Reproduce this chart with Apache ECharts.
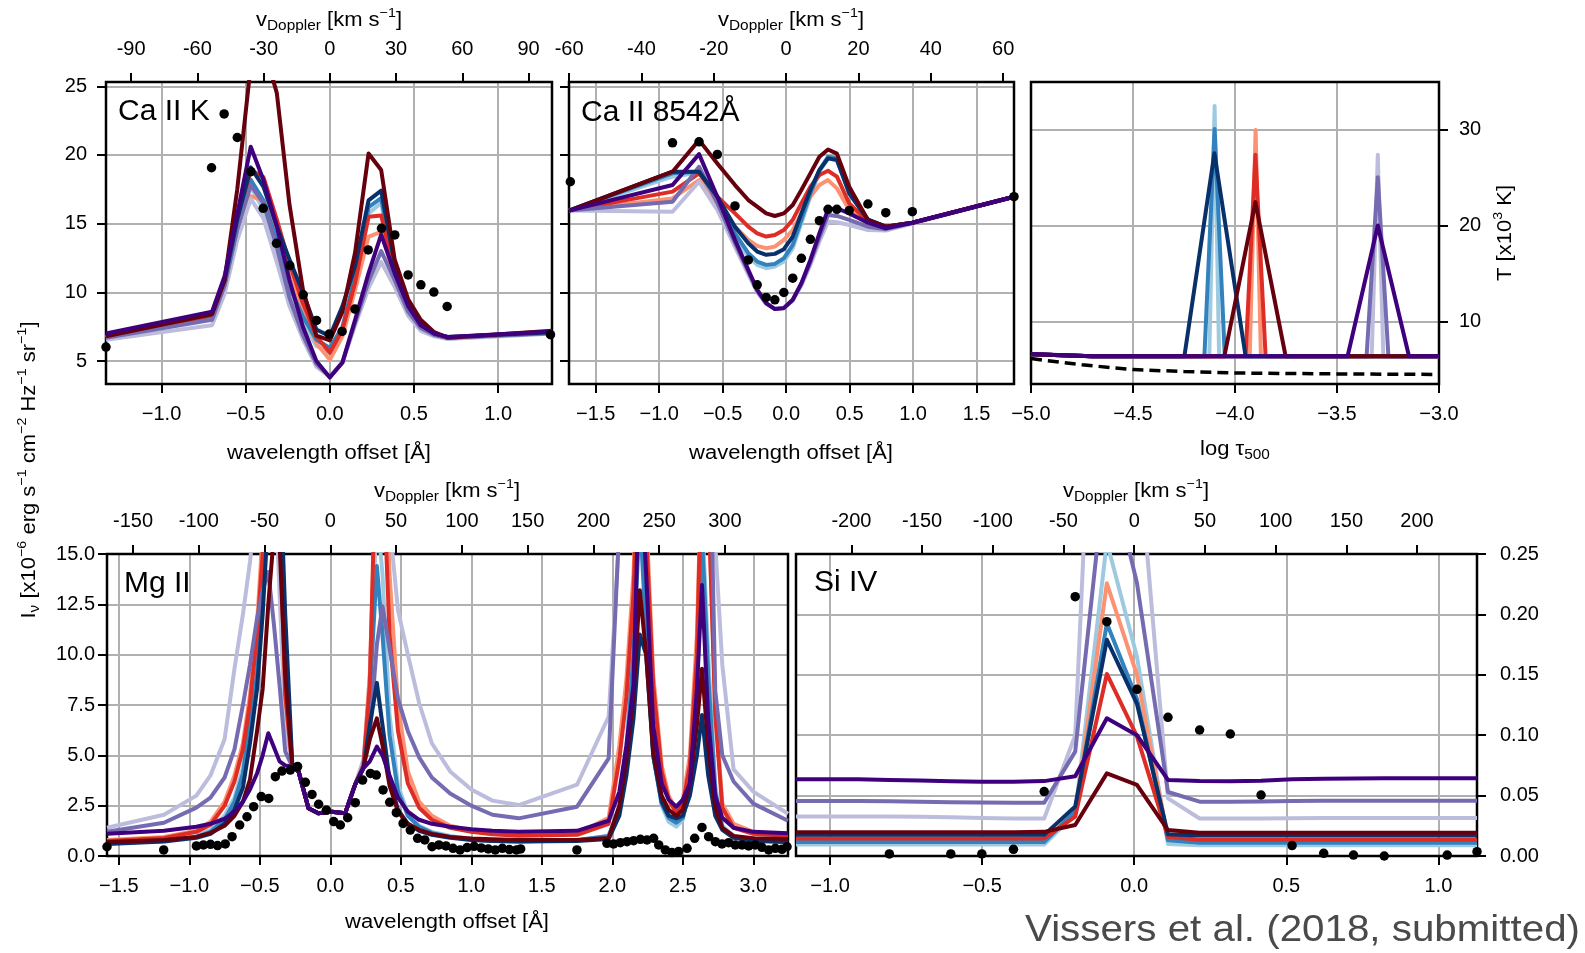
<!DOCTYPE html>
<html><head><meta charset="utf-8">
<script src="https://cdn.jsdelivr.net/npm/echarts@6/dist/echarts.min.js"></script>
<style>html,body{margin:0;padding:0;background:#fff}#c{width:1585px;height:953px}</style>
</head><body><div id="c"></div>
<script>
// ---------- constants ----------
const C_KMS = 299792.458;
const LAMBDA0_CAK = 3933.66, LAMBDA0_CA8542 = 8542.09, LAMBDA0_MG = 2796.35, LAMBDA0_SI = 1393.76;

// ---------- tick labels ----------
const caK_waveTicks = [-1.0, -0.5, 0, 0.5, 1.0];
const caK_velTicks = [-90, -60, -30, 0, 30, 60, 90];
const ca8542_waveTicks = [-1.5, -1.0, -0.5, 0, 0.5, 1.0, 1.5];
const ca8542_velTicks = [-60, -40, -20, 0, 20, 40, 60];
const ca_yTicks = [5, 10, 15, 20, 25];
const t_xTicks = [-5.0, -4.5, -4.0, -3.5, -3.0];
const t_yTicks = [10, 20, 30];
const mg_waveTicks = [-1.5, -1.0, -0.5, 0, 0.5, 1.0, 1.5, 2.0, 2.5, 3.0];
const mg_velTicks = [-150, -100, -50, 0, 50, 100, 150, 200, 250, 300];
const mg_yTicks = [0, 2.5, 5, 7.5, 10, 12.5, 15];
const si_waveTicks = [-1.0, -0.5, 0, 0.5, 1.0];
const si_velTicks = [-200, -150, -100, -50, 0, 50, 100, 150, 200];
const si_yTicks = [0, 0.05, 0.10, 0.15, 0.20, 0.25];

// ---------- Ca II K ----------
const caK_grid = [-1.33, -0.70, -0.625, -0.55, -0.47, -0.395, -0.315, -0.24, -0.16, -0.08, 0, 0.075, 0.15, 0.23, 0.305, 0.385, 0.465, 0.54, 0.62, 0.70, 1.32];
const caK_lb  = [6.7, 8.2, 10.4, 14.3, 17.7, 16.0, 12.6, 9.7, 7.8, 6.1, 5.6, 7.3, 10.7, 15.75, 16.5, 11.6, 8.8, 7.5, 6.9, 6.65, 7.0];
const caK_b   = [6.75, 8.3, 10.6, 14.7, 18.2, 16.7, 13.8, 10.4, 8.25, 6.55, 5.95, 7.5, 11.15, 16.2, 16.85, 11.9, 9.0, 7.6, 6.95, 6.7, 7.05];
const caK_db  = [6.9, 8.45, 10.9, 15.3, 19.1, 17.7, 14.8, 12.4, 10.0, 7.3, 6.8, 9.0, 11.9, 16.7, 17.4, 12.1, 9.2, 7.8, 7.0, 6.75, 7.1];
const caK_sal = [6.7, 8.3, 10.6, 14.6, 17.0, 16.7, 14.3, 11.15, 8.5, 6.3, 5.1, 6.8, 10.2, 14.05, 14.4, 11.15, 8.5, 7.4, 6.9, 6.65, 7.05];
const caK_red = [6.75, 8.35, 10.8, 15.0, 18.9, 18.4, 15.3, 12.1, 9.2, 6.8, 5.6, 7.3, 10.7, 15.5, 15.6, 11.4, 8.7, 7.5, 6.95, 6.7, 7.1];
const caK_dr  = [6.8, 8.4, 10.9, 17.5, 26.5, 28.0, 24.5, 16.4, 10.2, 6.85, 6.5, 8.6, 12.9, 20.1, 18.9, 12.4, 9.5, 8.0, 7.1, 6.7, 7.2];
const caK_lav = [6.55, 7.6, 9.9, 13.8, 16.8, 15.4, 12.2, 9.0, 6.6, 4.6, 3.85, 4.9, 7.6, 10.3, 12.2, 10.4, 8.3, 7.2, 6.8, 6.6, 7.0];
const caK_pur = [6.7, 8.0, 10.5, 14.6, 17.8, 16.5, 13.3, 9.6, 6.9, 4.8, 3.85, 4.9, 7.8, 10.8, 13.0, 10.9, 8.6, 7.4, 6.9, 6.7, 7.05];
const caK_dp  = [7.0, 8.6, 11.2, 15.7, 20.6, 18.2, 14.8, 10.9, 7.5, 5.0, 3.8, 4.9, 8.0, 11.4, 14.2, 11.4, 9.0, 7.6, 7.0, 6.75, 7.15];
const caK_obsX = [-1.33, -0.703, -0.628, -0.550, -0.469, -0.396, -0.317, -0.238, -0.158, -0.079, -0.004, 0.073, 0.149, 0.228, 0.307, 0.386, 0.465, 0.541, 0.618, 0.697, 1.311];
const caK_obsY = [6.02, 19.07, 22.99, 21.27, 18.78, 16.12, 13.57, 11.95, 9.82, 7.96, 6.96, 7.16, 8.78, 13.09, 14.66, 14.18, 11.27, 10.55, 10.02, 8.97, 6.92];

// ---------- Ca II 8542 ----------
const ca8_grid = [-1.71, -0.895, -0.686, -0.542, -0.403, -0.298, -0.228, -0.157, -0.089, -0.018, 0.052, 0.120, 0.191, 0.262, 0.330, 0.400, 0.497, 0.644, 0.785, 0.994, 1.795];
const ca8_lb  = [15.95, 18.42, 18.72, 16.48, 14.0, 12.6, 12.0, 11.76, 11.88, 12.24, 13.2, 15.03, 16.96, 18.78, 19.75, 19.63, 17.2, 15.27, 14.78, 15.07, 16.96];
const ca8_b   = [15.95, 18.66, 18.78, 16.72, 14.3, 12.85, 12.24, 12.0, 12.07, 12.48, 13.45, 15.27, 17.2, 18.9, 19.87, 19.75, 17.33, 15.32, 14.78, 15.07, 16.96];
const ca8_db  = [15.95, 18.78, 18.78, 16.96, 14.78, 13.57, 12.97, 12.73, 12.8, 13.14, 14.06, 15.75, 17.45, 18.9, 19.75, 19.63, 17.2, 15.27, 14.78, 15.07, 16.96];
const ca8_sal = [15.95, 16.84, 18.17, 16.24, 14.78, 13.82, 13.38, 13.21, 13.33, 13.82, 14.54, 15.75, 16.96, 17.81, 18.17, 17.57, 15.99, 15.03, 14.78, 15.07, 16.96];
const ca8_red = [15.95, 17.33, 18.66, 16.96, 15.75, 14.78, 14.3, 14.06, 14.18, 14.54, 15.27, 16.48, 17.69, 18.54, 18.85, 18.42, 16.48, 15.15, 14.78, 15.07, 16.96];
const ca8_dr  = [15.95, 18.78, 21.08, 19.38, 17.81, 16.72, 16.24, 15.75, 15.56, 15.75, 16.36, 17.45, 18.66, 19.87, 20.4, 20.1, 17.69, 15.27, 14.78, 15.07, 16.96];
const ca8_lav = [15.95, 15.87, 18.05, 16.0, 13.3, 11.3, 10.0, 9.15, 8.8, 8.87, 9.4, 10.5, 12.0, 13.7, 15.15, 15.1, 14.9, 14.54, 14.5, 15.0, 16.96];
const ca8_pur = [15.95, 16.6, 19.14, 16.5, 13.6, 11.5, 10.1, 9.2, 8.8, 8.87, 9.45, 10.6, 12.2, 14.0, 15.63, 15.56, 15.27, 14.78, 14.6, 15.05, 16.96];
const ca8_dp  = [15.95, 17.81, 20.06, 16.96, 13.82, 11.64, 10.19, 9.22, 8.78, 8.85, 9.46, 10.67, 12.36, 14.3, 16.04, 16.12, 15.75, 15.07, 14.66, 15.07, 16.96];
const ca8_obsX = [-1.70, -0.895, -0.686, -0.542, -0.403, -0.298, -0.228, -0.157, -0.089, -0.018, 0.052, 0.120, 0.191, 0.262, 0.330, 0.400, 0.497, 0.644, 0.785, 0.994, 1.795];
const ca8_obsY = [18.05, 20.88, 20.96, 20.04, 16.29, 12.36, 10.55, 9.63, 9.46, 9.99, 11.03, 12.48, 13.86, 15.22, 16.04, 16.04, 15.95, 16.43, 15.80, 15.87, 16.96];

// ---------- temperature panel (log tau500, T in kK) ----------
const t_lb  = [[-5, 6.6], [-4.7, 6.4], [-4.126, 6.4], [-4.1, 32.5], [-4.078, 6.4], [-3, 6.4]];
const t_b   = [[-5, 6.6], [-4.7, 6.4], [-4.15, 6.4], [-4.1, 30.1], [-4.05, 6.4], [-3, 6.4]];
const t_db  = [[-5, 6.6], [-4.7, 6.4], [-4.248, 6.4], [-4.101, 27.57], [-3.948, 6.4], [-3, 6.4]];
const t_sal = [[-5, 6.6], [-4.7, 6.4], [-3.928, 6.4], [-3.899, 30.0], [-3.873, 6.4], [-3, 6.4]];
const t_red = [[-5, 6.6], [-4.7, 6.4], [-3.948, 6.4], [-3.9, 27.4], [-3.85, 6.4], [-3, 6.4]];
const t_dr  = [[-5, 6.6], [-4.7, 6.4], [-4.052, 6.4], [-3.9, 22.47], [-3.752, 6.4], [-3, 6.4]];
const t_lav = [[-5, 6.6], [-4.7, 6.4], [-3.33, 6.4], [-3.3, 27.4], [-3.273, 6.4], [-3, 6.4]];
const t_pur = [[-5, 6.6], [-4.7, 6.4], [-3.355, 6.4], [-3.3, 25.07], [-3.248, 6.4], [-3, 6.4]];
const t_dp  = [[-5, 6.63], [-4.7, 6.4], [-3.448, 6.4], [-3.3, 20.03], [-3.147, 6.4], [-3, 6.4]];
const t_ref = [[-5, 6.15], [-4.75, 5.5], [-4.5, 5.0], [-4.25, 4.8], [-4.0, 4.65], [-3.5, 4.55], [-3, 4.5]];

// ---------- Mg II ----------
const mg_grid = [-1.584, -1.18, -0.95, -0.85, -0.75, -0.68, -0.62, -0.57, -0.52, -0.48, -0.44, -0.40, -0.36, -0.32, -0.27, -0.225, -0.155, -0.085, 0.01, 0.105, 0.175, 0.235, 0.28, 0.33, 0.37, 0.42, 0.48, 0.55, 0.63, 0.72, 0.85, 1.0, 1.15, 1.336, 1.75, 1.974, 2.05, 2.10, 2.15, 2.195, 2.24, 2.29, 2.35, 2.40, 2.454, 2.50, 2.55, 2.60, 2.636, 2.68, 2.73, 2.78, 2.86, 3.0, 3.246];
const mg_lav = [1.4, 2.05, 3.0, 4.0, 5.8, 9.3, 12.0, 14.6, 18, 22, 24, 20, 13, 6.5, 4.44, 4.19, 2.37, 2.12, 2.2, 2.12, 3.53, 4.8, 8, 18, 25, 16.5, 12.2, 10.0, 7.6, 5.6, 4.2, 3.3, 2.75, 2.53, 3.54, 6.93, 16, 25, 25, 25, 25, 25, 25, 25, 25, 25, 25, 25, 25, 25, 15.5, 9.5, 4.3, 3.2, 2.1];
const mg_pur = [1.2, 1.65, 2.4, 2.9, 3.9, 5.3, 7.5, 9.5, 11.8, 13.2, 14.1, 11.5, 8.5, 5.2, 4.44, 4.19, 2.37, 2.12, 2.2, 2.12, 3.53, 4.5, 6.0, 10.5, 12.4, 10.3, 7.8, 6.2, 4.9, 3.9, 3.1, 2.5, 2.05, 1.87, 2.45, 4.85, 16.5, 25, 25, 25, 25, 25, 25, 25, 25, 25, 25, 25, 25, 25, 8.2, 5.0, 3.7, 2.6, 1.75];
const mg_dp  = [1.1, 1.25, 1.45, 1.6, 1.85, 2.2, 2.7, 3.3, 4.1, 5.0, 6.1, 5.4, 4.7, 4.5, 4.44, 4.19, 2.37, 2.12, 2.2, 2.12, 3.53, 4.36, 4.7, 5.43, 5.0, 4.0, 2.9, 2.2, 1.8, 1.6, 1.45, 1.33, 1.25, 1.2, 1.25, 1.75, 3.2, 5.5, 8.5, 20, 14, 6.5, 3.6, 2.8, 2.45, 2.8, 3.6, 8.3, 13.46, 6.8, 3.0, 1.9, 1.4, 1.2, 1.13];
const mg_sal = [0.8, 0.95, 1.25, 1.7, 2.7, 4.0, 5.6, 8.0, 11.5, 16, 22, 22, 15, 8, 4.44, 4.19, 2.37, 2.12, 2.2, 2.12, 3.53, 4.6, 9, 20, 24, 14, 7.5, 4.2, 2.7, 2.0, 1.5, 1.25, 1.12, 1.05, 1.1, 1.9, 5.5, 8.8, 14, 22, 17, 9, 4.5, 3.0, 2.25, 2.8, 5.0, 11, 20, 18, 7.5, 2.6, 1.6, 1.2, 1.05];
const mg_red = [0.75, 0.9, 1.2, 1.55, 2.5, 3.7, 5.3, 7.6, 11, 15, 22, 24, 17, 8, 4.44, 4.19, 2.37, 2.12, 2.2, 2.12, 3.53, 4.5, 8.5, 22, 20, 11, 6.2, 3.6, 2.4, 1.8, 1.4, 1.2, 1.08, 1.0, 1.05, 1.6, 4.8, 7.9, 13, 22, 16, 8.5, 4.2, 2.8, 2.12, 2.6, 4.5, 10, 20, 18, 7, 2.4, 1.4, 1.1, 1.0];
const mg_dr  = [0.7, 0.8, 0.95, 1.15, 1.5, 2.0, 2.7, 3.8, 6.2, 8.3, 12.5, 16, 15.5, 9, 4.44, 4.19, 2.37, 2.12, 2.2, 2.12, 3.53, 4.4, 5.8, 6.84, 5.5, 3.5, 2.2, 1.6, 1.3, 1.1, 0.95, 0.87, 0.83, 0.8, 0.8, 0.9, 2.5, 4.8, 8.0, 13.2, 10, 5.2, 3.0, 2.3, 2.0, 2.3, 3.6, 6.5, 9.3, 5.5, 2.4, 1.4, 1.0, 0.88, 0.85];
const mg_lb  = [0.65, 0.8, 1.0, 1.3, 2.0, 2.9, 4.4, 7.0, 9.5, 14, 20, 22, 17, 9, 4.5, 4.19, 2.37, 2.12, 2.2, 2.12, 3.53, 4.4, 9, 17, 14, 7, 3.5, 2.1, 1.5, 1.2, 1.0, 0.85, 0.78, 0.75, 0.8, 1.0, 2.5, 5.5, 11, 18, 12, 5, 2.5, 1.7, 1.46, 1.8, 3.5, 9, 17, 10, 3.5, 1.5, 1.0, 0.8, 0.7];
const mg_b   = [0.62, 0.75, 0.95, 1.2, 1.8, 2.7, 4.1, 6.6, 9.0, 13, 18, 22, 18, 10, 4.5, 4.19, 2.37, 2.12, 2.2, 2.12, 3.53, 4.4, 8, 14.4, 11, 6, 3.2, 2.0, 1.45, 1.15, 0.95, 0.82, 0.76, 0.72, 0.78, 1.0, 2.3, 5.0, 10, 17, 11, 5, 2.6, 1.9, 1.65, 1.9, 3.4, 8, 16, 9, 3.2, 1.4, 0.95, 0.78, 0.7];
const mg_db  = [0.6, 0.72, 0.9, 1.1, 1.6, 2.3, 3.4, 5.6, 8.3, 12, 17, 22, 20, 12, 4.6, 4.19, 2.37, 2.12, 2.2, 2.12, 3.53, 4.36, 6.5, 8.6, 6.5, 3.8, 2.3, 1.6, 1.25, 1.05, 0.9, 0.8, 0.75, 0.72, 0.75, 0.85, 2.0, 4.0, 6.8, 11.0, 10.0, 5.0, 2.7, 2.0, 1.87, 2.0, 3.0, 5.0, 7.0, 4.0, 2.0, 1.3, 0.9, 0.75, 0.7];
const mg_obsX = [-1.584, -1.182, -0.950, -0.900, -0.850, -0.800, -0.745, -0.697, -0.643, -0.591, -0.544, -0.490, -0.437, -0.390, -0.343, -0.284, -0.232, -0.177, -0.130, -0.083, -0.028, 0.024, 0.071, 0.123, 0.177, 0.229, 0.284, 0.326, 0.374, 0.421, 0.468, 0.516, 0.567, 0.619, 0.670, 0.721, 0.770, 0.820, 0.870, 0.920, 0.970, 1.020, 1.070, 1.120, 1.170, 1.220, 1.270, 1.320, 1.350, 1.749, 1.962, 2.009, 2.057, 2.104, 2.151, 2.199, 2.246, 2.293, 2.329, 2.376, 2.423, 2.470, 2.530, 2.584, 2.636, 2.683, 2.731, 2.778, 2.825, 2.872, 2.920, 2.967, 3.014, 3.061, 3.109, 3.156, 3.203, 3.239];
const mg_obsY = [0.46, 0.30, 0.50, 0.55, 0.58, 0.52, 0.60, 0.96, 1.54, 1.95, 2.45, 2.95, 2.86, 3.94, 4.22, 4.27, 4.44, 3.66, 3.06, 2.57, 2.28, 1.71, 1.54, 1.90, 2.65, 3.77, 4.10, 4.02, 3.28, 2.67, 2.15, 1.62, 1.29, 0.88, 0.80, 0.46, 0.55, 0.50, 0.38, 0.30, 0.42, 0.48, 0.40, 0.35, 0.30, 0.38, 0.32, 0.30, 0.35, 0.30, 0.63, 0.60, 0.66, 0.71, 0.76, 0.83, 0.80, 0.88, 0.55, 0.30, 0.17, 0.22, 0.38, 0.88, 1.42, 0.96, 0.71, 0.60, 0.66, 0.55, 0.55, 0.50, 0.55, 0.43, 0.30, 0.38, 0.33, 0.46];

// ---------- Si IV ----------
const si_grid = [-1.112, -1.009, -0.907, -0.805, -0.705, -0.603, -0.501, -0.397, -0.296, -0.194, -0.090, 0.009, 0.111, 0.215, 0.316, 0.417, 0.519, 0.623, 0.721, 0.822, 0.924, 1.029, 1.127];
const si_lb  = [0.0095, 0.0095, 0.0095, 0.0095, 0.0095, 0.0095, 0.0095, 0.0095, 0.0095, 0.035, 0.26, 0.165, 0.010, 0.009, 0.009, 0.009, 0.009, 0.009, 0.009, 0.009, 0.009, 0.009, 0.009];
const si_sal = [0.013, 0.013, 0.013, 0.013, 0.013, 0.013, 0.013, 0.013, 0.013, 0.036, 0.2257, 0.15, 0.014, 0.0125, 0.0125, 0.0125, 0.0125, 0.0125, 0.0125, 0.0125, 0.0125, 0.0125, 0.0125];
const si_lav = [0.0326, 0.0326, 0.0326, 0.0326, 0.0324, 0.032, 0.0315, 0.031, 0.031, 0.10, 0.68, 0.35, 0.0477, 0.031, 0.031, 0.031, 0.0312, 0.0314, 0.0315, 0.0315, 0.0315, 0.0315, 0.0315];
const si_b   = [0.0115, 0.0115, 0.0115, 0.0115, 0.0115, 0.0115, 0.0115, 0.0115, 0.0115, 0.037, 0.1926, 0.13, 0.013, 0.011, 0.011, 0.011, 0.011, 0.011, 0.011, 0.011, 0.011, 0.011, 0.011];
const si_red = [0.0145, 0.0145, 0.0145, 0.0145, 0.0145, 0.0145, 0.0145, 0.0145, 0.0145, 0.0326, 0.1507, 0.099, 0.016, 0.0135, 0.0135, 0.0135, 0.0135, 0.0135, 0.0135, 0.0135, 0.0135, 0.0135, 0.0135];
const si_pur = [0.0455, 0.0455, 0.0455, 0.0453, 0.045, 0.0445, 0.0442, 0.044, 0.0441, 0.0864, 0.33, 0.226, 0.053, 0.045, 0.045, 0.0452, 0.0455, 0.0457, 0.0458, 0.0458, 0.0458, 0.0458, 0.0458];
const si_db  = [0.0175, 0.0175, 0.0175, 0.0175, 0.0175, 0.0175, 0.0175, 0.0175, 0.0175, 0.041, 0.179, 0.126, 0.018, 0.017, 0.017, 0.017, 0.017, 0.017, 0.017, 0.017, 0.017, 0.017, 0.017];
const si_dr  = [0.0197, 0.0197, 0.0197, 0.0197, 0.0197, 0.0197, 0.0197, 0.0197, 0.020, 0.0257, 0.0684, 0.0588, 0.0215, 0.0193, 0.0193, 0.0193, 0.0193, 0.0193, 0.0193, 0.0193, 0.0193, 0.0193, 0.0193];
const si_dp  = [0.0635, 0.0635, 0.0635, 0.063, 0.0625, 0.0618, 0.0615, 0.0615, 0.062, 0.066, 0.114, 0.100, 0.063, 0.062, 0.0618, 0.0622, 0.0635, 0.064, 0.0642, 0.0643, 0.0643, 0.0643, 0.0643];
const si_obsX = [-0.955, -0.805, -0.705, -0.603, -0.501, -0.397, -0.296, -0.194, -0.090, 0.009, 0.111, 0.215, 0.316, 0.417, 0.519, 0.623, 0.721, 0.822, 0.924, 1.029, 1.127];
const si_obsY = [-0.002, 0.0017, -0.001, 0.0017, 0.0017, 0.0055, 0.0533, 0.2147, 0.194, 0.138, 0.1148, 0.1043, 0.101, 0.0505, 0.0086, 0.0022, 0.0008, 0.0, -0.001, 0.0008, 0.0036];

// ---------- axis limits ----------
const caK_xlim = [-1.33, 1.32], ca8_xlim = [-1.7105, 1.795], t_xlim = [-5, -3], mg_xlim = [-1.584, 3.246], si_xlim = [-1.112, 1.127];
const ca_ylim = [3.33, 25.31], t_ylim = [3.5, 35], mg_ylim = [0, 15], si_ylim = [0, 0.25];

// ---------- styling ----------
const FONT = "'Liberation Sans', Arial, Helvetica, sans-serif";
const COL = {lb:'#9ecae1', b:'#3182bd', db:'#08306b', sal:'#fc9272', red:'#de2d26', dr:'#67000d', lav:'#bcbddc', pur:'#756bb1', dp:'#3f007d'};
const ORDER = ['lb','sal','lav','b','red','pur','db','dr','dp'];
const LW = 4;
const GRIDC = '#b0b0b0';

const fmtWave = v => (v < 0 ? '\u2212' : '') + Math.abs(v).toFixed(1);
const toVel = (lims, l0) => lims.map(l => l / l0 * C_KMS);

function tickAxis(o) {
  return {
    type: 'value', gridIndex: o.grid, position: o.pos, min: o.lim[0], max: o.lim[1], z: 0,
    axisLine: {show: false, onZero: false},
    axisTick: {show: true, customValues: o.ticks, length: 9, lineStyle: {color: '#000', width: 2}},
    axisLabel: {show: o.label !== false, customValues: o.ticks, formatter: o.fmt || (v => String(v)),
      margin: o.margin, color: '#000', fontSize: 20, fontFamily: FONT},
    splitLine: {show: !!o.split, lineStyle: {color: GRIDC, width: 2}}
  };
}

const grids = [
  {left:106, top:82, width:446, height:302},
  {left:569, top:82, width:445, height:302},
  {left:1031, top:82, width:408, height:302},
  {left:107, top:554, width:681, height:302},
  {left:796, top:554, width:681, height:302}
].map(g => Object.assign(g, {show:true, z:1, borderColor:'#000', borderWidth:2.5, backgroundColor:'transparent', containLabel:false}));

const xAxes = [
  tickAxis({grid:0, pos:'bottom', lim:caK_xlim, ticks:caK_waveTicks, fmt:fmtWave, margin:20, split:true}),
  tickAxis({grid:0, pos:'top', lim:toVel(caK_xlim, LAMBDA0_CAK), ticks:caK_velTicks, margin:23}),
  tickAxis({grid:1, pos:'bottom', lim:ca8_xlim, ticks:ca8542_waveTicks, fmt:fmtWave, margin:20, split:true}),
  tickAxis({grid:1, pos:'top', lim:toVel(ca8_xlim, LAMBDA0_CA8542), ticks:ca8542_velTicks, margin:23}),
  tickAxis({grid:2, pos:'bottom', lim:t_xlim, ticks:t_xTicks, fmt:fmtWave, margin:20, split:true}),
  tickAxis({grid:3, pos:'bottom', lim:mg_xlim, ticks:mg_waveTicks, fmt:fmtWave, margin:20, split:true}),
  tickAxis({grid:3, pos:'top', lim:toVel(mg_xlim, LAMBDA0_MG), ticks:mg_velTicks, margin:23}),
  tickAxis({grid:4, pos:'bottom', lim:si_xlim, ticks:si_waveTicks, fmt:fmtWave, margin:20, split:true}),
  tickAxis({grid:4, pos:'top', lim:toVel(si_xlim, LAMBDA0_SI), ticks:si_velTicks, margin:23})
];
const yAxes = [
  tickAxis({grid:0, pos:'left', lim:ca_ylim, ticks:ca_yTicks, margin:19, split:true}),
  tickAxis({grid:1, pos:'left', lim:ca_ylim, ticks:ca_yTicks, label:false, margin:19, split:true}),
  tickAxis({grid:2, pos:'right', lim:t_ylim, ticks:t_yTicks, margin:20, split:true}),
  tickAxis({grid:3, pos:'left', lim:mg_ylim, ticks:mg_yTicks, fmt:v => v.toFixed(1), margin:12, split:true}),
  tickAxis({grid:4, pos:'right', lim:si_ylim, ticks:si_yTicks, fmt:v => v.toFixed(2), margin:23, split:true})
];

const series = [];
function addPanel(xIdx, yIdx, grid, sets, obsX, obsY) {
  ORDER.forEach((k, i) => {
    series.push({type:'line', xAxisIndex:xIdx, yAxisIndex:yIdx, symbol:'none', silent:true, clip:true,
      data: grid.map((x, j) => [x, sets[k][j]]), z: 2,
      lineStyle:{color:COL[k], width:LW, join:'round'}});
  });
  if (obsX) series.push({type:'scatter', xAxisIndex:xIdx, yAxisIndex:yIdx, symbol:'circle', symbolSize:9.5, silent:true,
    data: obsX.map((x, j) => [x, obsY[j]]), itemStyle:{color:'#000', opacity:1}, z:4});
}
addPanel(0, 0, caK_grid, {lb:caK_lb, b:caK_b, db:caK_db, sal:caK_sal, red:caK_red, dr:caK_dr, lav:caK_lav, pur:caK_pur, dp:caK_dp}, caK_obsX, caK_obsY);
addPanel(2, 1, ca8_grid, {lb:ca8_lb, b:ca8_b, db:ca8_db, sal:ca8_sal, red:ca8_red, dr:ca8_dr, lav:ca8_lav, pur:ca8_pur, dp:ca8_dp}, ca8_obsX, ca8_obsY);
addPanel(5, 3, mg_grid, {lb:mg_lb, b:mg_b, db:mg_db, sal:mg_sal, red:mg_red, dr:mg_dr, lav:mg_lav, pur:mg_pur, dp:mg_dp}, mg_obsX, mg_obsY);
addPanel(7, 4, si_grid, {lb:si_lb, b:si_b, db:si_db, sal:si_sal, red:si_red, dr:si_dr, lav:si_lav, pur:si_pur, dp:si_dp}, si_obsX, si_obsY);
const tSets = {lb:t_lb, b:t_b, db:t_db, sal:t_sal, red:t_red, dr:t_dr, lav:t_lav, pur:t_pur, dp:t_dp};
ORDER.forEach((k, i) => series.push({type:'line', xAxisIndex:4, yAxisIndex:2, symbol:'none', silent:true, clip:true,
  data: tSets[k], z: 2, lineStyle:{color:COL[k], width:LW, join:'round'}}));
series.push({type:'line', xAxisIndex:4, yAxisIndex:2, symbol:'none', silent:true, data:t_ref, z:3,
  lineStyle:{color:'#000', width:3.5, type:[11, 6]}});

// ---------- text ----------
const RICH = {
  a: {fontSize:20, lineHeight:26, fontFamily:FONT, color:'#000'},
  s: {fontSize:14, lineHeight:14, fontFamily:FONT, color:'#000', verticalAlign:'bottom'},
  p: {fontSize:13, lineHeight:13, fontFamily:FONT, color:'#000', verticalAlign:'top'}
};
function txt(x, y, text, opt) {
  opt = opt || {};
  return {type:'text', x, y, z:100, silent:true, rotation: opt.rot || 0, scaleX: opt.sx || 1, scaleY: 1,
    style:{text, rich:RICH, fontSize: opt.fs || 20, fontFamily:FONT, fill: opt.color || '#000',
      align: opt.align || 'center', verticalAlign: opt.va || 'middle'}};
}
const VDOP = '{a|v}{s|Doppler}{a| [km s}{p|\u22121}{a|]}';
const WAVE = '{a|wavelength offset [\u00C5]}';
const graphics = [
  txt(329, 20, VDOP, {sx:1.1}), txt(791, 20, VDOP, {sx:1.1}),
  txt(447, 491, VDOP, {sx:1.1}), txt(1136, 491, VDOP, {sx:1.1}),
  txt(329, 453, WAVE, {sx:1.1}), txt(791, 453, WAVE, {sx:1.1}), txt(447, 922, WAVE, {sx:1.1}),
  txt(1235, 449, '{a|log \u03C4}{s|500}', {sx:1.1}),
  txt(118, 112, 'Ca II K', {fs:30, align:'left'}),
  txt(581, 113, 'Ca II 8542\u00C5', {fs:30, align:'left'}),
  txt(124, 584, 'Mg II', {fs:30, align:'left'}),
  txt(814, 583, 'Si IV', {fs:30, align:'left'}),
  txt(29, 470, '{a|I}{s|\u03BD}{a| [x10}{p|\u22126}{a| erg s}{p|\u22121}{a| cm}{p|\u22122}{a| Hz}{p|\u22121}{a| sr}{p|\u22121}{a|]}', {rot:Math.PI/2, sx:1.1}),
  txt(1505, 233, '{a|T [x10}{p|3}{a| K]}', {rot:Math.PI/2, sx:1.1}),
  txt(1580, 931, 'Vissers et al. (2018, submitted)', {fs:36, align:'right', sx:1.12, color:'#4a4a4a'})
];

const chart = echarts.init(document.getElementById('c'), null, {renderer:'canvas'});
chart.setOption({
  animation: false,
  backgroundColor: '#fff',
  grid: grids, xAxis: xAxes, yAxis: yAxes, series, graphic: graphics
});
</script></body></html>
